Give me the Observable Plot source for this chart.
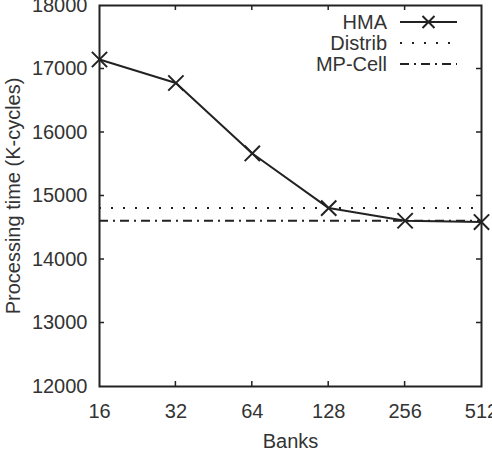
<!DOCTYPE html>
<html>
<head>
<meta charset="utf-8">
<script src="https://cdn.jsdelivr.net/npm/d3@7"></script>
<script src="https://cdn.jsdelivr.net/npm/@observablehq/plot@0.6"></script>
<style>
  html, body { margin: 0; padding: 0; background: white; overflow: hidden; }
  #chart svg { font-family: "Liberation Sans", Arial, sans-serif; }
</style>
</head>
<body>
<div id="chart"></div>
<script>
const banks = [16, 32, 64, 128, 256, 512];
const hma = [17150, 16780, 15670, 14810, 14610, 14590];
const distrib = 14810;
const mpCell = 14610;
const yTicks = [12000, 13000, 14000, 15000, 16000, 17000, 18000];
const seriesNames = ["HMA", "Distrib", "MP-Cell"];

const hmaData = banks.map((b, i) => ({banks: b, time: hma[i]}));
const ink = "#222";
const textInk = "#333";

const legend = (index, scales, values, dims) => {
  const g = d3.create("svg:g");
  const xr = dims.width - dims.marginRight;
  const textX = xr - 94, lx1 = xr - 81, lx2 = xr - 24;
  const styles = [
    {dash: null, marker: true},
    {dash: "2,10", marker: false},
    {dash: "9,5,2,5", marker: false}
  ];
  seriesNames.forEach((name, i) => {
    const y = dims.marginTop + 17 + i * 21;
    g.append("text").attr("x", textX).attr("y", y).attr("dy", "0.35em")
      .attr("text-anchor", "end").attr("fill", textInk).attr("font-size", 20).text(name);
    g.append("line").attr("x1", lx1).attr("x2", lx2).attr("y1", y).attr("y2", y)
      .attr("stroke", ink).attr("stroke-width", 2)
      .attr("stroke-dasharray", styles[i].dash);
    if (styles[i].marker) {
      const cx = (lx1 + lx2) / 2, s = 6;
      g.append("path").attr("d", `M${cx - s},${y - s}L${cx + s},${y + s}M${cx - s},${y + s}L${cx + s},${y - s}`)
        .attr("stroke", ink).attr("stroke-width", 2);
    }
  });
  return g.node();
};

// inward (mirrored) tick marks, placed through the plot's own scales
const innerTicks = (index, scales, values, dims) => {
  const g = d3.create("svg:g").attr("stroke", ink).attr("stroke-width", 1.5);
  const top = dims.marginTop, bottom = dims.height - dims.marginBottom;
  const left = dims.marginLeft, right = dims.width - dims.marginRight;
  const len = 5;
  banks.slice(1, -1).forEach(b => {
    const x = scales.x(b);
    g.append("line").attr("x1", x).attr("x2", x).attr("y1", bottom).attr("y2", bottom - len);
    g.append("line").attr("x1", x).attr("x2", x).attr("y1", top).attr("y2", top + len);
  });
  yTicks.slice(1, -1).forEach(v => {
    const y = scales.y(v);
    g.append("line").attr("x1", left).attr("x2", left + len).attr("y1", y).attr("y2", y);
    g.append("line").attr("x1", right).attr("x2", right - len).attr("y1", y).attr("y2", y);
  });
  return g.node();
};

const chart = Plot.plot({
  width: 492,
  height: 459,
  marginLeft: 99,
  marginRight: 11,
  marginTop: 5,
  marginBottom: 73,
  style: {fontSize: "20px", color: textInk, background: "white", overflow: "visible"},
  x: {type: "log", base: 2, domain: [16, 512]},
  y: {type: "linear", domain: [12000, 18000]},
  marks: [
    Plot.axisX(banks, {anchor: "bottom", tickSize: 0, tickPadding: 17, tickFormat: d => String(d), label: null, fill: textInk}),
    Plot.axisY(yTicks, {anchor: "left", tickSize: 0, tickPadding: 12, tickFormat: d => String(d), label: null, fill: textInk}),
    innerTicks,
    Plot.ruleY([distrib], {stroke: ink, strokeWidth: 2, strokeDasharray: "2,10"}),
    Plot.ruleY([mpCell], {stroke: ink, strokeWidth: 2, strokeDasharray: "9,5,2,5"}),
    Plot.line(hmaData, {x: "banks", y: "time", stroke: ink, strokeWidth: 2}),
    Plot.dot(hmaData, {x: "banks", y: "time", symbol: "times", r: 7, stroke: ink, strokeWidth: 2}),
    Plot.frame({stroke: ink, strokeWidth: 2}),
    Plot.text(["Processing time (K-cycles)"], {frameAnchor: "left", textAnchor: "middle", rotate: -90, dx: -86, fill: textInk, fontSize: 20}),
    Plot.text(["Banks"], {frameAnchor: "bottom", dy: 61, fill: textInk, fontSize: 20}),
    legend
  ]
});
document.getElementById("chart").appendChild(chart);
</script>
</body>
</html>
